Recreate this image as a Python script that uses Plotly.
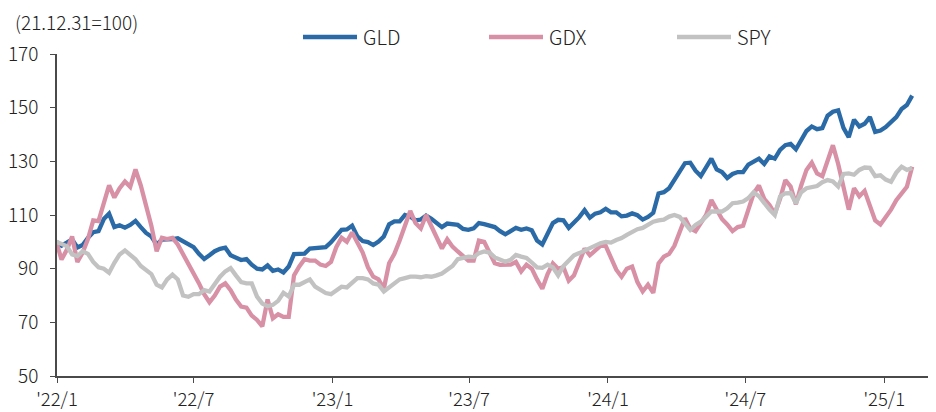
import pandas as pd
import plotly.graph_objects as go

# Weekly (Friday) closes, rebased 2021-12-31 = 100
dates = pd.date_range("2021-12-31", periods=163, freq="7D")

gld = [
    100, 98.6, 99.7, 100.9, 97.9, 98.8, 101.5, 103.6, 104, 108.5,
    110.5, 105.5, 106.2, 105.3, 106.3, 107.8, 105.5, 103.3, 102, 99,
    100.8, 100.8, 101, 101.3, 100.2, 99.5, 98, 95.5, 93.6, 95,
    96.5, 97.4, 97.8, 95, 94.3, 93.2, 93.6, 91.5, 90, 89.7,
    91.2, 89.2, 89.7, 88.6, 90.8, 95.4, 95.5, 95.6, 97.5, 97.8,
    97.8, 98, 99.8, 102, 104.5, 104.6, 106, 102, 100.3, 99.9,
    98.8, 100.1, 102, 106.5, 107.6, 107.6, 110, 109.4, 108, 108.3,
    109.8, 108.6, 107, 105.5, 106.8, 106.5, 106.3, 104.8, 104.5, 105,
    107, 106.6, 106, 105.5, 104, 102.8, 104, 105.2, 104.5, 105,
    104.3, 100.5, 99, 103, 107, 108.2, 108, 105.2, 107, 109.2,
    111.8, 109, 110.5, 111, 112.3, 111, 111, 109.5, 109.8, 110.6,
    109.9, 108.3, 109.3, 110.8, 118, 118.5, 120, 123, 126.5, 129.3,
    129.5, 126.5, 124.5, 127.5, 131, 127, 126, 123.8, 125.3, 126,
    126, 128.8, 130, 131, 129, 131.8, 131, 134.3, 136, 136.5,
    134.5, 137.8, 141.3, 143, 142, 142.4, 147, 148.5, 149, 142.5,
    139, 145.5, 143, 144, 146.5, 141, 141.5, 142.8, 144.8, 146.5,
    149.5, 151, 154.5,
]

gdx = [
    100, 93.4, 97, 102, 92.5, 96, 101, 108, 107.7, 115,
    121, 116.5, 120, 122.5, 120.5, 127, 121, 113.5, 106, 96.5,
    101.5, 101, 101.5, 99, 95.5, 92, 88, 84.6, 80.5, 77.5,
    80, 83.3, 84.5, 82, 78.5, 75.9, 75.5, 72.5, 70.9, 68.5,
    78.5, 71.5, 73, 72, 72, 87.5, 90.8, 93.5, 93, 93,
    91.5, 91, 92.5, 98, 101.5, 100, 103.5, 100, 96, 90.5,
    87, 86, 82.5, 92, 95.5, 100.5, 106, 111.5, 107, 105,
    110, 106, 101.5, 97.5, 101, 98.2, 96.4, 94.5, 93, 93,
    100.5, 100, 96, 92, 91.4, 91.5, 91.5, 92.5, 89, 91.5,
    90, 86, 82.5, 88, 92, 90, 90.5, 85.5, 87.5, 92.5,
    97.5, 95, 96.5, 98.5, 98.5, 94, 89.6, 87, 90, 90.8,
    85, 81.5, 84, 81, 92, 94.5, 95.5, 98.5, 103.5, 108.8,
    105, 104, 107, 110, 115.6, 112, 108.5, 106.5, 104, 105.5,
    106, 112, 118, 121, 116, 113.7, 110.5, 116, 123, 120.6,
    114, 121, 126.8, 129.5, 125.5, 124.5, 130.5, 136, 129, 120,
    112, 120, 117, 119, 114, 108, 106.5, 109, 112, 115.5,
    118, 120.5, 128,
]

spy = [
    100, 99, 98.4, 95.3, 94.7, 96.5, 95.5, 92.5, 90.5, 90,
    88.5, 92.2, 95.3, 96.8, 95.3, 93.5, 91, 89.7, 88, 84,
    83, 86, 87.8, 86, 80, 79.5, 80.5, 80.5, 82, 81.5,
    84.6, 87, 89, 90.2, 87.5, 85, 84.5, 84.5, 79.6, 77,
    76, 76.5, 78, 81, 79.6, 84, 84, 85.2, 86, 83.3,
    82, 80.9, 80.5, 81.8, 83.3, 83, 85, 86.5, 86.5, 86,
    84.5, 84, 81.5, 83, 84.5, 86, 86.5, 87, 87, 86.8,
    87.2, 87, 87.5, 88.2, 89.6, 91, 93.5, 93.9, 94.5, 94.3,
    95.8, 96.4, 96, 94.2, 93.5, 92.6, 93.3, 95.1, 94.5, 94,
    92.3, 90.5, 90.3, 91.5, 90.5, 87.5, 91, 93, 95, 95.8,
    96.7, 97.5, 98.8, 99.5, 100, 99.7, 100.7, 101.4, 102.6, 103.6,
    104.7, 105.2, 106.5, 107.5, 108, 108.3, 109.4, 110, 109.3, 107,
    104.5, 106.3, 107.5, 109.4, 111.3, 111.3, 111.3, 112.5, 114.4, 114.6,
    115, 116.3, 118.5, 117, 114.4, 112, 110, 116.9, 118.1, 118.2,
    114.4, 118.5, 120, 120.3, 120.8, 122.2, 123, 122.5, 120.6, 125.3,
    125.5, 125, 126.8, 127.7, 127.6, 124.5, 124.8, 123.2, 122.4, 125.8,
    128, 126.8, 127.5,
]

series_names = ["GLD", "GDX", "SPY"]
series_values = [gld, gdx, spy]
series_colors = ["#2A6AA6", "#D890A6", "#C2C2C2"]

tick_dates = ["2022-01-01", "2022-07-01", "2023-01-01", "2023-07-01",
              "2024-01-01", "2024-07-01", "2025-01-01"]
tick_labels = ["'22/1", "'22/7", "'23/1", "'23/7", "'24/1", "'24/7", "'25/1"]
y_ticks = [50, 70, 90, 110, 130, 150, 170]

FONT = "Noto Sans CJK KR"
TXT = "#222222"
AX = "#4a4a4a"

# the page body adds an 8px offset; the figure is sized to fit the window
OFF = 8
FIG_W, FIG_H = 936 - OFF, 412 - OFF

# plot-area geometry in page pixels, converted to figure pixels
L, W = 57 - OFF, 871
T, H = 54 - OFF, 322
B = T + H


def px(x):
    return (x - OFF - L) / W


def py(y):
    return (B - (y - OFF)) / H


fig = go.Figure()
for name, vals, col in zip(series_names, series_values, series_colors):
    fig.add_trace(go.Scatter(x=dates, y=vals, name=name, mode="lines",
                             line=dict(color=col, width=4.3),
                             showlegend=False))

# custom legend (long line samples as in the original)
legend_pos = [(303, 357, 361), (489, 543, 547), (677, 731, 735)]
for (x0, x1, xt), name, col in zip(legend_pos, series_names, series_colors):
    fig.add_shape(type="line", xref="paper", yref="paper",
                  x0=px(x0), x1=px(x1), y0=py(37), y1=py(37),
                  line=dict(color=col, width=4.5))
    fig.add_annotation(xref="paper", yref="paper", x=px(xt), y=py(37),
                       xanchor="left", yanchor="middle", text=name,
                       showarrow=False,
                       font=dict(family=FONT, size=20, color=TXT, weight=300))

fig.add_annotation(xref="paper", yref="paper", x=px(13), y=py(21),
                   xanchor="left", yanchor="middle", text="(21.12.31=100)",
                   showarrow=False,
                   font=dict(family=FONT, size=19, color=TXT, weight=300))

fig.update_layout(
    width=FIG_W, height=FIG_H,
    margin=dict(l=L, r=FIG_W - L - W, t=T, b=FIG_H - B, autoexpand=False),
    paper_bgcolor="white", plot_bgcolor="white",
    font=dict(family=FONT, size=20, color=TXT, weight=300),
)
fig.update_xaxes(
    range=["2022-01-01", "2025-02-28"], automargin=False,
    tickvals=tick_dates, ticktext=tick_labels,
    showgrid=False, zeroline=False, showline=True, linecolor=AX, linewidth=1.6,
    ticks="outside", ticklen=5, tickwidth=1.4, tickcolor=AX,
    tickfont=dict(family=FONT, size=18.5, color=TXT, weight=300), ticklabelstandoff=1,
)
fig.update_yaxes(
    range=[50, 170], tickvals=y_ticks, automargin=False,
    showgrid=False, zeroline=False, showline=True, linecolor=AX, linewidth=1.6,
    ticks="outside", ticklen=5, tickwidth=1.4, tickcolor=AX,
    tickfont=dict(family=FONT, size=19, color=TXT, weight=300), ticklabelstandoff=8,
)

fig.write_html("out.html")
